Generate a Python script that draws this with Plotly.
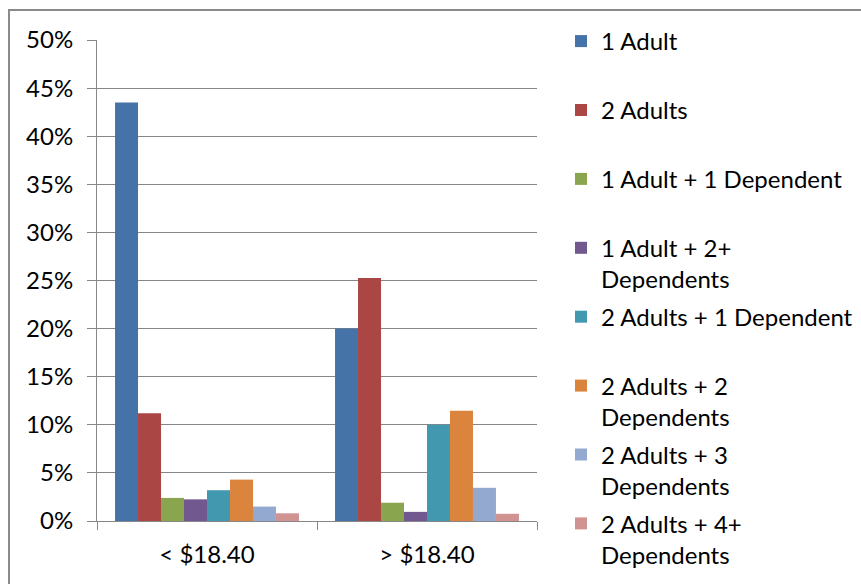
import plotly.graph_objects as go

# Hourly wage bands and household types
wage_bands = ["< $18.40", "> $18.40"]
household_types = [
    "1 Adult",
    "2 Adults",
    "1 Adult + 1 Dependent",
    "1 Adult + 2+<br>Dependents",
    "2 Adults + 1 Dependent",
    "2 Adults + 2<br>Dependents",
    "2 Adults + 3<br>Dependents",
    "2 Adults + 4+<br>Dependents",
]
# Share of workers per household type, for each wage band
share_below = [0.435, 0.112, 0.024, 0.0225, 0.032, 0.043, 0.015, 0.008]
share_above = [0.200, 0.2525, 0.019, 0.0095, 0.100, 0.1145, 0.0345, 0.0075]
colors = ["#4572A7", "#AA4643", "#89A54E", "#71588F",
          "#4198AF", "#DB843D", "#93A9CF", "#D19392"]
y_ticks = [0, 0.05, 0.10, 0.15, 0.20, 0.25, 0.30, 0.35, 0.40, 0.45, 0.50]

W, H = 861, 584
ML, MR, MT, MB = 97, 324, 40, 63
PW, PH = W - ML - MR, H - MT - MB

FONT = "Lato"
FS = 24
GRID = "#878787"


def px_to_paper_x(px):
    return (px - ML) / PW


def px_to_paper_y(py):
    return (H - MB - py) / PH


fig = go.Figure()
for i, name in enumerate(household_types):
    label = name if "<br>" in name else name + "<br>\u00a0"
    fig.add_trace(go.Bar(
        x=wage_bands,
        y=[share_below[i], share_above[i]],
        name=label,
        legendgroup=f"g{i}",
        marker=dict(color=colors[i], line=dict(width=0)),
    ))

fig.update_layout(
    width=W, height=H,
    margin=dict(l=ML, r=MR, t=MT, b=MB, pad=0, autoexpand=False),
    paper_bgcolor="white",
    plot_bgcolor="white",
    barmode="group",
    bargap=0.164,
    bargroupgap=0,
    font=dict(family=FONT, size=FS, color="#000000"),
    legend=dict(
        xref="container", yref="container",
        x=561 / W, xanchor="left",
        y=1 - 19 / H, yanchor="top",
        valign="top",
        tracegroupgap=3.5,
        maxheight=700,
        font=dict(family=FONT, size=FS, color="#000000"),
        bgcolor="rgba(0,0,0,0)",
    ),
    xaxis=dict(
        type="category",
        tickson="boundaries",
        ticks="outside", ticklen=8, tickcolor=GRID, tickwidth=1,
        showline=True, linecolor=GRID, linewidth=1,
        showgrid=False,
        ticklabelstandoff=12,
        tickfont=dict(family=FONT, size=FS, color="#000000"),
    ),
    yaxis=dict(
        range=[0, 0.5],
        tickvals=y_ticks,
        tickformat=".0%",
        ticks="outside", ticklen=9, tickcolor=GRID, tickwidth=1,
        showline=True, linecolor=GRID, linewidth=1,
        showgrid=True, gridcolor=GRID, gridwidth=1,
        zeroline=False,
        ticklabelstandoff=9,
        tickfont=dict(family=FONT, size=FS, color="#000000"),
    ),
    shapes=[dict(
        type="rect", xref="paper", yref="paper",
        x0=px_to_paper_x(9), x1=px_to_paper_x(W + 20),
        y0=px_to_paper_y(H + 20), y1=px_to_paper_y(10),
        line=dict(color="#8a8a8a", width=2),
        fillcolor="rgba(0,0,0,0)",
    )],
)

fig.write_html("out.html")
